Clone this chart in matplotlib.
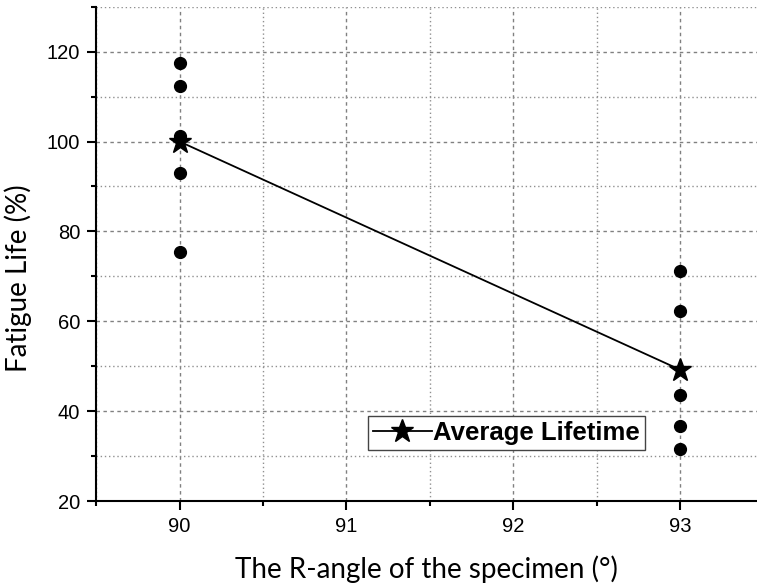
import matplotlib
matplotlib.use("Agg")
import matplotlib.pyplot as plt
from matplotlib.ticker import MultipleLocator

# R-angle groups and measured fatigue life (%) of each specimen
angles = [90, 93]
life_90 = [117.5, 112.3, 101.3, 93.1, 75.4]
life_93 = [71.3, 62.3, 43.7, 36.7, 31.5]
avg_life = [100.0, 49.2]

fig = plt.figure(figsize=(7.57, 5.87), dpi=100)
ax = fig.add_axes([0.127, 0.1465, 0.873, 0.842])

ax.plot([angles[0]] * len(life_90), life_90, "o", color="black", ms=8.5, zorder=3)
ax.plot([angles[1]] * len(life_93), life_93, "o", color="black", ms=8.5, zorder=3)
ax.plot(angles, avg_life, "-*", color="black", lw=1.3, ms=17, zorder=4,
        label="Average Lifetime")

ax.set_xlim(89.5, 93.46)
ax.set_ylim(20, 130)
ax.xaxis.set_major_locator(MultipleLocator(1))
ax.xaxis.set_minor_locator(MultipleLocator(0.5))
ax.yaxis.set_major_locator(MultipleLocator(20))
ax.yaxis.set_minor_locator(MultipleLocator(10))

ax.grid(which="major", color="#808080", ls=(0, (2.5, 2.5)), lw=1.0)
ax.grid(which="minor", color="#909090", ls=(0, (1, 2)), lw=1.0)
ax.set_axisbelow(True)

for s in ["top", "right"]:
    ax.spines[s].set_visible(False)
for s in ["left", "bottom"]:
    ax.spines[s].set_linewidth(1.5)

ax.tick_params(which="major", direction="out", length=6.5, width=1.5, pad=5,
               labelsize=14.5)
ax.tick_params(which="minor", direction="out", length=3.5, width=1.5)
for lab in ax.get_xticklabels() + ax.get_yticklabels():
    lab.set_family("Liberation Sans")

ax.set_xlabel("The R-angle of the specimen (\u00b0)", family="Lato", fontsize=20,
              labelpad=14)
ax.set_ylabel("Fatigue Life (%)", family="Lato", fontsize=20)
ax.yaxis.set_label_coords(-0.097, 0.451)

leg = ax.legend(loc="lower left", bbox_to_anchor=(0.411, 0.103), borderaxespad=0,
                prop={"family": "Liberation Sans", "weight": "bold", "size": 18.5},
                fancybox=False, framealpha=1, edgecolor="#444444",
                handlelength=2.3, handletextpad=0.05, borderpad=0.2)
leg.get_frame().set_linewidth(1.0)

fig.savefig("out.png", dpi=100)
